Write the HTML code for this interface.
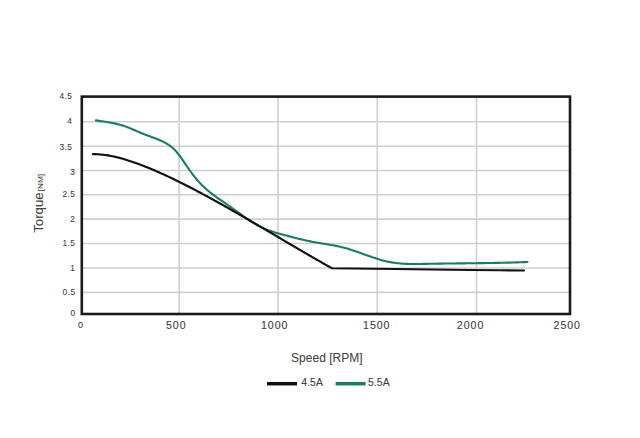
<!DOCTYPE html>
<html><head><meta charset="utf-8"><style>
html,body{margin:0;padding:0;background:#fff;}
body{width:640px;height:438px;overflow:hidden;position:relative;}
svg{position:absolute;left:0;top:0;}
text{font-family:"Liberation Sans",sans-serif;fill:#3a3a3a;stroke:#3a3a3a;stroke-width:0.08px;}
.yt{font-size:8.3px;letter-spacing:0.45px;}
.xt{font-size:10.6px;letter-spacing:0.95px;}
</style></head><body>
<svg width="640" height="438" viewBox="0 0 640 438">
<rect x="0" y="0" width="640" height="438" fill="#fff"/>
<g stroke="#cfcfcf" stroke-width="1.6" fill="none">
<line x1="82" y1="121.8" x2="570" y2="121.8" />
<line x1="82" y1="146.3" x2="570" y2="146.3" />
<line x1="82" y1="170.5" x2="570" y2="170.5" />
<line x1="82" y1="194.8" x2="570" y2="194.8" />
<line x1="82" y1="219.1" x2="570" y2="219.1" />
<line x1="82" y1="243.5" x2="570" y2="243.5" />
<line x1="82" y1="268.0" x2="570" y2="268.0" />
<line x1="82" y1="292.4" x2="570" y2="292.4" />
<line x1="179.1" y1="96" x2="179.1" y2="314" />
<line x1="278.0" y1="96" x2="278.0" y2="314" />
<line x1="377.3" y1="96" x2="377.3" y2="314" />
<line x1="476.5" y1="96" x2="476.5" y2="314" />
</g>
<path d="M95.90 120.40 L97.40 120.64 L98.90 120.87 L100.40 121.09 L101.90 121.32 L103.40 121.54 L104.90 121.77 L106.40 122.00 L107.90 122.24 L109.40 122.50 L110.90 122.76 L112.40 123.04 L113.90 123.34 L115.40 123.65 L116.90 123.99 L118.40 124.36 L119.90 124.75 L121.40 125.17 L122.90 125.62 L124.40 126.11 L125.90 126.63 L127.40 127.19 L128.90 127.78 L130.40 128.39 L131.90 129.03 L133.40 129.67 L134.90 130.33 L136.40 130.99 L137.90 131.64 L139.40 132.29 L140.90 132.93 L142.40 133.54 L143.90 134.14 L145.40 134.71 L146.90 135.27 L148.40 135.82 L149.90 136.36 L151.40 136.90 L152.90 137.45 L154.40 138.00 L155.90 138.58 L157.40 139.17 L158.90 139.80 L160.40 140.45 L161.90 141.15 L163.40 141.88 L164.90 142.67 L166.40 143.51 L167.90 144.42 L169.40 145.42 L170.90 146.52 L172.40 147.75 L173.90 149.11 L175.40 150.62 L176.90 152.31 L178.40 154.16 L179.90 156.15 L181.40 158.25 L182.90 160.42 L184.40 162.62 L185.90 164.84 L187.40 167.03 L188.90 169.17 L190.40 171.26 L191.90 173.29 L193.40 175.27 L194.90 177.17 L196.40 179.00 L197.90 180.75 L199.40 182.42 L200.90 184.01 L202.40 185.53 L203.90 186.98 L205.40 188.37 L206.90 189.70 L208.40 190.98 L209.90 192.21 L211.40 193.40 L212.90 194.55 L214.40 195.66 L215.90 196.75 L217.40 197.82 L218.90 198.87 L220.40 199.90 L221.90 200.93 L223.40 201.95 L224.90 202.98 L226.40 204.01 L227.90 205.05 L229.40 206.11 L230.90 207.17 L232.40 208.25 L233.90 209.32 L235.40 210.40 L236.90 211.48 L238.40 212.56 L239.90 213.64 L241.40 214.71 L242.90 215.77 L244.40 216.82 L245.90 217.85 L247.40 218.87 L248.90 219.87 L250.40 220.85 L251.90 221.81 L253.40 222.74 L254.90 223.65 L256.40 224.52 L257.90 225.36 L259.40 226.17 L260.90 226.94 L262.40 227.67 L263.90 228.37 L265.40 229.02 L266.90 229.63 L268.40 230.22 L269.90 230.77 L271.40 231.29 L272.90 231.79 L274.40 232.27 L275.90 232.73 L277.40 233.17 L278.90 233.59 L280.40 234.01 L281.90 234.41 L283.40 234.81 L284.90 235.20 L286.40 235.60 L287.90 235.99 L289.40 236.38 L290.90 236.77 L292.40 237.15 L293.90 237.54 L295.40 237.91 L296.90 238.29 L298.40 238.66 L299.90 239.02 L301.40 239.38 L302.90 239.73 L304.40 240.08 L305.90 240.41 L307.40 240.74 L308.90 241.06 L310.40 241.37 L311.90 241.67 L313.40 241.96 L314.90 242.24 L316.40 242.51 L317.90 242.77 L319.40 243.03 L320.90 243.28 L322.40 243.52 L323.90 243.76 L325.40 244.01 L326.90 244.25 L328.40 244.50 L329.90 244.75 L331.40 245.01 L332.90 245.28 L334.40 245.56 L335.90 245.85 L337.40 246.15 L338.90 246.47 L340.40 246.80 L341.90 247.16 L343.40 247.53 L344.90 247.92 L346.40 248.34 L347.90 248.78 L349.40 249.24 L350.90 249.71 L352.40 250.20 L353.90 250.70 L355.40 251.21 L356.90 251.74 L358.40 252.27 L359.90 252.80 L361.40 253.35 L362.90 253.89 L364.40 254.43 L365.90 254.98 L367.40 255.52 L368.90 256.06 L370.40 256.59 L371.90 257.11 L373.40 257.62 L374.90 258.12 L376.40 258.61 L377.90 259.08 L379.40 259.54 L380.90 259.97 L382.40 260.39 L383.90 260.78 L385.40 261.15 L386.90 261.49 L388.40 261.80 L389.90 262.09 L391.40 262.35 L392.90 262.59 L394.40 262.81 L395.90 263.00 L397.40 263.18 L398.90 263.33 L400.40 263.46 L401.90 263.58 L403.40 263.68 L404.90 263.76 L406.40 263.83 L407.90 263.89 L409.40 263.93 L410.90 263.96 L412.40 263.98 L413.90 263.99 L415.40 263.99 L416.90 263.99 L418.40 263.97 L419.90 263.96 L421.40 263.93 L422.90 263.91 L424.40 263.88 L425.90 263.85 L427.40 263.83 L428.90 263.80 L430.40 263.77 L431.90 263.75 L433.40 263.72 L434.90 263.70 L436.40 263.68 L437.90 263.65 L439.40 263.63 L440.90 263.61 L442.40 263.59 L443.90 263.57 L445.40 263.55 L446.90 263.53 L448.40 263.51 L449.90 263.50 L451.40 263.48 L452.90 263.46 L454.40 263.45 L455.90 263.43 L457.40 263.41 L458.90 263.39 L460.40 263.38 L461.90 263.36 L463.40 263.35 L464.90 263.33 L466.40 263.31 L467.90 263.30 L469.40 263.28 L470.90 263.26 L472.40 263.24 L473.90 263.23 L475.40 263.21 L476.90 263.19 L478.40 263.17 L479.90 263.15 L481.40 263.13 L482.90 263.11 L484.40 263.09 L485.90 263.07 L487.40 263.04 L488.90 263.02 L490.40 262.99 L491.90 262.97 L493.40 262.94 L494.90 262.92 L496.40 262.89 L497.90 262.86 L499.40 262.83 L500.90 262.80 L502.40 262.76 L503.90 262.73 L505.40 262.69 L506.90 262.66 L508.40 262.62 L509.90 262.58 L511.40 262.54 L512.90 262.50 L514.40 262.45 L515.90 262.41 L517.40 262.36 L518.90 262.31 L520.40 262.26 L521.90 262.21 L523.40 262.16 L524.90 262.10 L526.40 262.04 L527.50 262.00" fill="none" stroke="#187d62" stroke-width="2.1" stroke-linecap="round" stroke-linejoin="round"/>
<path d="M92.90 154.11 L94.40 154.13 L95.90 154.17 L97.40 154.24 L98.90 154.34 L100.40 154.46 L101.90 154.60 L103.40 154.77 L104.90 154.96 L106.40 155.17 L107.90 155.41 L109.40 155.67 L110.90 155.94 L112.40 156.24 L113.90 156.56 L115.40 156.89 L116.90 157.24 L118.40 157.61 L119.90 158.00 L121.40 158.41 L122.90 158.83 L124.40 159.26 L125.90 159.71 L127.40 160.18 L128.90 160.66 L130.40 161.15 L131.90 161.65 L133.40 162.17 L134.90 162.69 L136.40 163.23 L137.90 163.78 L139.40 164.34 L140.90 164.90 L142.40 165.48 L143.90 166.06 L145.40 166.65 L146.90 167.25 L148.40 167.86 L149.90 168.47 L151.40 169.09 L152.90 169.72 L154.40 170.36 L155.90 171.00 L157.40 171.66 L158.90 172.31 L160.40 172.98 L161.90 173.65 L163.40 174.33 L164.90 175.01 L166.40 175.70 L167.90 176.40 L169.40 177.10 L170.90 177.81 L172.40 178.53 L173.90 179.25 L175.40 179.98 L176.90 180.71 L178.40 181.44 L179.90 182.19 L181.40 182.93 L182.90 183.68 L184.40 184.44 L185.90 185.20 L187.40 185.97 L188.90 186.74 L190.40 187.51 L191.90 188.29 L193.40 189.07 L194.90 189.86 L196.40 190.65 L197.90 191.44 L199.40 192.24 L200.90 193.04 L202.40 193.85 L203.90 194.65 L205.40 195.46 L206.90 196.28 L208.40 197.09 L209.90 197.91 L211.40 198.73 L212.90 199.56 L214.40 200.38 L215.90 201.21 L217.40 202.04 L218.90 202.88 L220.40 203.71 L221.90 204.55 L223.40 205.39 L224.90 206.24 L226.40 207.08 L227.90 207.93 L229.40 208.78 L230.90 209.63 L232.40 210.48 L233.90 211.34 L235.40 212.19 L236.90 213.05 L238.40 213.91 L239.90 214.77 L241.40 215.64 L242.90 216.50 L244.40 217.37 L245.90 218.24 L247.40 219.10 L248.90 219.97 L250.40 220.85 L251.90 221.72 L253.40 222.59 L254.90 223.47 L256.40 224.34 L257.90 225.22 L259.40 226.09 L260.90 226.97 L262.40 227.85 L263.90 228.73 L265.40 229.61 L266.90 230.49 L268.40 231.37 L269.90 232.25 L271.40 233.13 L272.90 234.02 L274.40 234.90 L275.90 235.78 L277.40 236.66 L278.90 237.54 L280.40 238.43 L281.90 239.31 L283.40 240.19 L284.90 241.07 L286.40 241.95 L287.90 242.84 L289.40 243.72 L290.90 244.60 L292.40 245.48 L293.90 246.36 L295.40 247.24 L296.90 248.12 L298.40 248.99 L299.90 249.87 L301.40 250.75 L302.90 251.62 L304.40 252.50 L305.90 253.37 L307.40 254.24 L308.90 255.11 L310.40 255.98 L311.90 256.85 L313.40 257.72 L314.90 258.58 L316.40 259.45 L317.90 260.31 L319.40 261.17 L320.90 262.03 L322.40 262.89 L323.90 263.75 L325.40 264.60 L326.90 265.45 L328.40 266.30 L329.90 267.15 L331.40 268.00 L331.90 268.28 L395.00 269.00 L470.00 270.00 L500.00 270.30 L524.00 270.50" fill="none" stroke="#111" stroke-width="2.15" stroke-linecap="round" stroke-linejoin="miter"/>
<rect x="81.8" y="96.6" width="488.2" height="217.4" fill="none" stroke="#1a1a1a" stroke-width="2.6"/>
<text x="72.30" y="98.55" text-anchor="end" class="yt">4.5</text>
<text x="72.30" y="123.95" text-anchor="end" class="yt">4</text>
<text x="72.30" y="149.75" text-anchor="end" class="yt">3.5</text>
<text x="75.40" y="174.55" text-anchor="end" class="yt">3</text>
<text x="75.40" y="197.45" text-anchor="end" class="yt">2.5</text>
<text x="75.40" y="222.45" text-anchor="end" class="yt">2</text>
<text x="75.40" y="245.85" text-anchor="end" class="yt">1.5</text>
<text x="75.30" y="271.35" text-anchor="end" class="yt">1</text>
<text x="75.50" y="294.75" text-anchor="end" class="yt">0.5</text>
<text x="75.70" y="316.15" text-anchor="end" class="yt">0</text>
<text x="176.25" y="329.2" text-anchor="middle" class="xt">500</text>
<text x="274.65" y="329.2" text-anchor="middle" class="xt">1000</text>
<text x="376.75" y="329.2" text-anchor="middle" class="xt">1500</text>
<text x="470.55" y="329.2" text-anchor="middle" class="xt">2000</text>
<text x="567.25" y="329.2" text-anchor="middle" class="xt">2500</text>
<text x="80.6" y="328.3" text-anchor="middle" style="font-size:9px">0</text>
<text x="326.8" y="361.9" text-anchor="middle" style="font-size:12px;fill:#444">Speed [RPM]</text>
<g transform="translate(43.0,232.8) rotate(-90) scale(1.06,1)">
<text x="0" y="0" style="font-size:12.5px;fill:#444">Torque<tspan style="font-size:7.8px" dx="0.9">[NM]</tspan></text>
</g>
<line x1="267" y1="383.7" x2="297" y2="383.7" stroke="#111" stroke-width="3.5"/>
<text x="301.3" y="386.2" style="font-size:10.5px;fill:#3a3a3a">4.5A</text>
<line x1="335.6" y1="383.7" x2="365.6" y2="383.7" stroke="#187d62" stroke-width="3.5"/>
<text x="368.1" y="386.2" style="font-size:10.5px;fill:#3a3a3a">5.5A</text>
</svg>
</body></html>
